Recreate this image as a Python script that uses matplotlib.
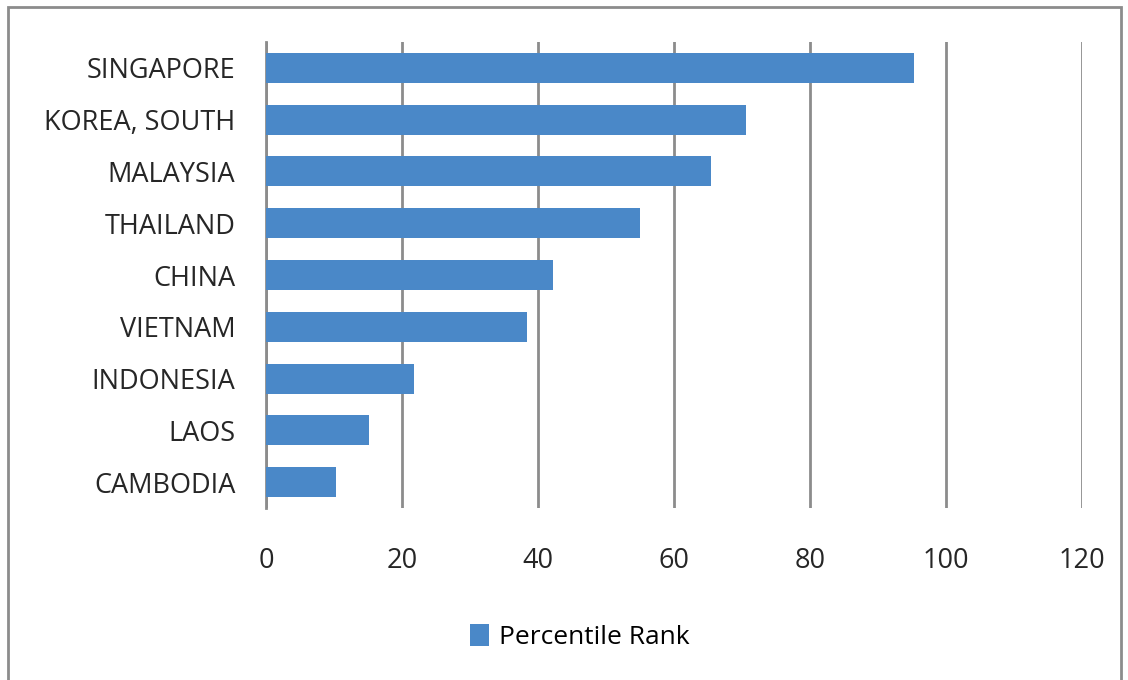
import matplotlib.pyplot as plt
from matplotlib.patches import Rectangle

# datos
paises = ["SINGAPORE", "KOREA, SOUTH", "MALAYSIA", "THAILAND", "CHINA",
          "VIETNAM", "INDONESIA", "LAOS", "CAMBODIA"]
percentil = [95.3, 70.6, 65.4, 55.0, 42.2, 38.4, 21.8, 15.1, 10.3]
ticks_x = [0, 20, 40, 60, 80, 100, 120]

plt.rcParams['font.family'] = ['Open Sans', 'DejaVu Sans']

fig = plt.figure(figsize=(11.28, 6.8), dpi=100)
ax = fig.add_axes([266/1128, 1 - 508/680, (1082 - 266)/1128, (508 - 42)/680])

# borde gris del grafico
fig.patches.append(Rectangle((8/1128, -0.05), (1121 - 8)/1128, 1.05 - 7/680,
                             transform=fig.transFigure, fill=False,
                             edgecolor='#8c8c8c', linewidth=2))

pos = list(range(len(paises)))[::-1]
ax.barh(pos, percentil, height=0.58, color='#4a88c8', label='Percentile Rank',
        zorder=3)

ax.set_xlim(0, 120)
ax.set_ylim(-0.5, len(paises) - 0.5)
ax.set_xticks(ticks_x)
ax.set_yticks(pos)
ax.set_yticklabels(paises)
ax.grid(axis='x', color='#8c8c8c', linewidth=2, zorder=0)
for lado in ['top', 'right', 'bottom']:
    ax.spines[lado].set_visible(False)
ax.spines['left'].set_color('#8c8c8c')
ax.spines['left'].set_linewidth(2)
ax.tick_params(axis='both', length=0, labelsize=19.5, colors='#262626')
ax.tick_params(axis='x', pad=28)
ax.tick_params(axis='y', pad=22)

fig.legend(loc='center', bbox_to_anchor=(580/1128, 1 - 637/680), frameon=False,
           fontsize=19, handlelength=0.7, handleheight=0.9, handletextpad=0.4)

fig.savefig("out.png")
